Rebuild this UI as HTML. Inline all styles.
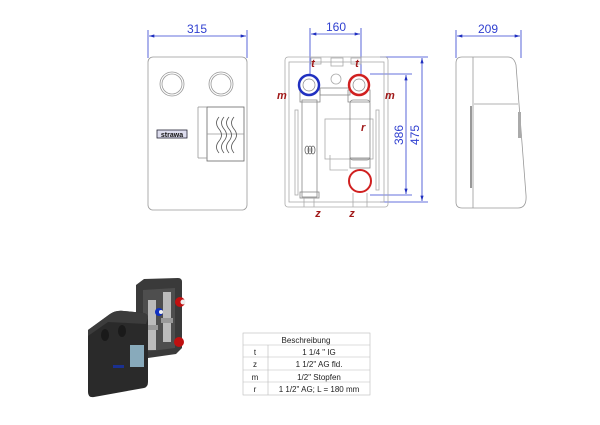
<!DOCTYPE html>
<html><head><style>
html,body{margin:0;padding:0;background:#fff;}
svg{display:block;font-family:"Liberation Sans",sans-serif;}
</style></head><body>
<svg width="600" height="425" viewBox="0 0 600 425" xmlns="http://www.w3.org/2000/svg">
<defs>
<marker id="a" viewBox="0 0 10 6" refX="10" refY="3" markerWidth="8" markerHeight="4" orient="auto-start-reverse"><path d="M0,0L10,3L0,6z" fill="#2030c0"/></marker>
</defs>
<g stroke="#3040d0" stroke-width="0.8" fill="none">
<line x1="148" y1="30" x2="148" y2="58"/><line x1="247" y1="30" x2="247" y2="58"/>
<line x1="149" y1="36" x2="246" y2="36" marker-start="url(#a)" marker-end="url(#a)"/>
<line x1="310" y1="28" x2="310" y2="75"/><line x1="361" y1="28" x2="361" y2="75"/>
<line x1="311" y1="34" x2="360" y2="34" marker-start="url(#a)" marker-end="url(#a)"/>
<line x1="380" y1="57" x2="428" y2="57"/><line x1="380" y1="202" x2="428" y2="202"/>
<line x1="422" y1="58" x2="422" y2="201" marker-start="url(#a)" marker-end="url(#a)"/>
<line x1="370" y1="74" x2="412" y2="74"/><line x1="370" y1="195" x2="412" y2="195"/>
<line x1="406" y1="75" x2="406" y2="194" marker-start="url(#a)" marker-end="url(#a)"/>
<line x1="456" y1="30" x2="456" y2="58"/><line x1="521" y1="30" x2="521" y2="58"/>
<line x1="457" y1="36" x2="520" y2="36" marker-start="url(#a)" marker-end="url(#a)"/>
</g>
<g fill="#3040d0" font-size="12">
<text x="197" y="33" text-anchor="middle">315</text>
<text x="336" y="31" text-anchor="middle">160</text>
<text x="488" y="33" text-anchor="middle">209</text>
<text transform="translate(403,135) rotate(-90)" text-anchor="middle">386</text>
<text transform="translate(419,135) rotate(-90)" text-anchor="middle">475</text>
</g>
<g stroke="#999" stroke-width="0.8" fill="none">
<rect x="148" y="57" width="99" height="153" rx="5"/>
<circle cx="172" cy="84" r="12"/><circle cx="172" cy="84" r="10"/>
<circle cx="221" cy="84" r="12"/><circle cx="221" cy="84" r="10"/>
<rect x="207" y="107" width="37" height="54" stroke="#666"/>
<line x1="198" y1="107" x2="207" y2="107"/><line x1="198" y1="107" x2="198" y2="158"/><line x1="198" y1="158" x2="207" y2="158"/>
<line x1="207" y1="134" x2="244" y2="134"/>
</g>
<g stroke="#555" stroke-width="0.8" fill="none">
<path d="M219,117q-5,6 0,12q5,6 0,12q-5,6 0,12"/>
<path d="M224,117q-5,6 0,12q5,6 0,12q-5,6 0,12"/>
<path d="M229,117q-5,6 0,12q5,6 0,12q-5,6 0,12"/>
<path d="M234,117q-5,6 0,12q5,6 0,12q-5,6 0,12"/>
</g>
<rect x="157" y="130" width="30" height="8" fill="#dde" stroke="#223" stroke-width="0.8"/>
<text x="172" y="137" font-size="7" font-weight="bold" text-anchor="middle" fill="#111">strawa</text>
<g stroke="#aaa" stroke-width="0.8" fill="none">
<rect x="285" y="57" width="103" height="150" rx="3"/>
<rect x="289" y="62" width="95" height="140"/>
<rect x="331" y="58" width="12" height="8"/><rect x="351" y="58" width="10" height="6"/><rect x="311" y="58" width="10" height="6"/>
<circle cx="336" cy="79" r="5"/>
<rect x="325" y="119" width="48" height="40"/>
<rect x="295" y="110" width="3" height="85"/><rect x="376" y="110" width="3" height="80"/>
<path d="M330,155v15h18"/>
<rect x="302" y="100" width="15" height="97" stroke="#888"/>
<rect x="350" y="100" width="20" height="60" rx="3" stroke="#888"/>
<rect x="300" y="192" width="19" height="6" stroke="#888"/>
<rect x="350" y="158" width="20" height="10" stroke="#888"/>
<rect x="300" y="90" width="20" height="12" stroke="#888"/>
<rect x="348" y="90" width="22" height="12" stroke="#888"/>
<rect x="320" y="88" width="30" height="7" stroke="#888"/>
<line x1="304" y1="198" x2="304" y2="207"/><line x1="314" y1="198" x2="314" y2="207"/>
<line x1="353" y1="193" x2="353" y2="207"/><line x1="367" y1="193" x2="367" y2="207"/>
<ellipse cx="307" cy="150" rx="2" ry="4" stroke="#666"/><ellipse cx="310" cy="150" rx="2" ry="4" stroke="#666"/><ellipse cx="313" cy="150" rx="2" ry="4" stroke="#666"/>
</g>
<circle cx="309" cy="85" r="10" fill="#fff" stroke="#2030c0" stroke-width="2.5"/>
<circle cx="309" cy="85" r="6" fill="none" stroke="#888" stroke-width="0.7"/>
<circle cx="359" cy="85" r="10" fill="#fff" stroke="#d02020" stroke-width="2.5"/>
<circle cx="359" cy="85" r="6" fill="none" stroke="#888" stroke-width="0.7"/>
<circle cx="360" cy="181" r="11" fill="#fff" stroke="#d02020" stroke-width="2"/>
<g fill="#a01818" font-size="11" font-style="italic" font-weight="bold">
<text x="313" y="67" text-anchor="middle">t</text>
<text x="357" y="67" text-anchor="middle">t</text>
<text x="277" y="99">m</text>
<text x="385" y="99">m</text>
<text x="361" y="131">r</text>
<text x="318" y="217" text-anchor="middle">z</text>
<text x="352" y="217" text-anchor="middle">z</text>
</g>
<g stroke="#999" stroke-width="0.8" fill="none">
<path d="M462,57h46q6,0 8,8l10,130q1,13 -8,13h-56q-6,0 -6,-6v-139q0,-6 6,-6z"/>
<line x1="473" y1="57" x2="473" y2="208"/>
<path d="M474,104h44"/>
</g>
<rect x="470" y="106" width="2" height="82" fill="#999"/>
<rect x="518" y="112" width="3" height="26" fill="#aaa"/>
<!-- 3D image -->
<g>
<path d="M136,285l8,-6l34,-1q4,0 4,4v66l-6,6l-35,5q-5,0 -5,-5z" fill="#3a3a3a"/>
<path d="M143,290l32,-2v60l-32,4z" fill="#4e4e4e"/>
<rect x="148" y="300" width="8" height="50" fill="#bbb"/>
<rect x="163" y="292" width="8" height="50" fill="#bbb"/>
<rect x="146" y="325" width="12" height="5" fill="#999"/>
<rect x="161" y="318" width="12" height="5" fill="#999"/>
<circle cx="180" cy="302" r="5" fill="#c01010"/><circle cx="183" cy="302" r="2.5" fill="#eee"/>
<circle cx="179" cy="342" r="5" fill="#c01010"/>
<circle cx="159" cy="312" r="4" fill="#1030c0"/><circle cx="161" cy="312" r="2" fill="#eee"/>
<path d="M88,330l22,-16q6,-4 14,-3l20,2q4,1 4,5v64q0,5 -4,6l-50,9q-6,1 -6,-5z" fill="#2a2a2a"/>
<path d="M88,330l22,-16q6,-4 14,-3l20,2q4,1 4,5l-2,6l-38,-2l-20,14z" fill="#3c3c3c"/>
<ellipse cx="105" cy="335" rx="4" ry="6" fill="#1a1a1a"/>
<ellipse cx="122" cy="331" rx="4" ry="6" fill="#1a1a1a"/>
<rect x="130" y="345" width="14" height="22" fill="#8ab" />
<rect x="113" y="365" width="11" height="3" fill="#1a3090"/>
</g>
<g stroke="#bbb" stroke-width="0.6" fill="none">
<rect x="243" y="333" width="127" height="62"/>
<line x1="243" y1="345" x2="370" y2="345"/>
<line x1="243" y1="357" x2="370" y2="357"/>
<line x1="243" y1="370" x2="370" y2="370"/>
<line x1="243" y1="382" x2="370" y2="382"/>
<line x1="268" y1="345" x2="268" y2="395"/>
</g>
<g font-size="8" fill="#222" text-anchor="middle">
<text x="306" y="343">Beschreibung</text>
<text x="255" y="355">t</text><text x="319" y="355">1 1/4 " IG</text>
<text x="255" y="367">z</text><text x="319" y="367">1 1/2" AG fld.</text>
<text x="255" y="380">m</text><text x="319" y="380">1/2" Stopfen</text>
<text x="255" y="392">r</text><text x="319" y="392">1 1/2" AG; L = 180 mm</text>
</g>
</svg>
</body></html>
